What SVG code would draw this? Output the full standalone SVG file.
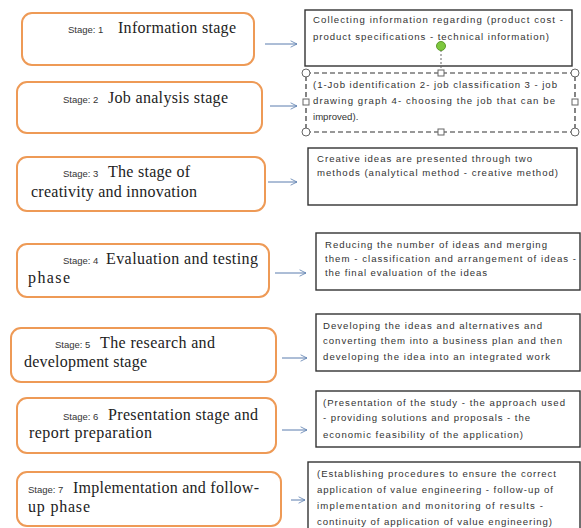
<svg xmlns="http://www.w3.org/2000/svg" width="581" height="528" viewBox="0 0 581 528">
<style>
.st{fill:#fff;stroke:#EE9A56;stroke-width:2}
.bx{fill:#fff;stroke:#333;stroke-width:1.4}
.sm{font-family:"Liberation Sans",Arial,sans-serif;font-size:9.5px;fill:#333}
.lg{font-family:"Liberation Serif","Times New Roman",serif;font-size:16px;fill:#222}
.tx{font-family:"Liberation Sans",Arial,sans-serif;font-size:9.6px;fill:#333}
.ar{stroke:#5B7DAE;stroke-width:1;fill:none}
.hc{fill:#fff;stroke:#666;stroke-width:1}
</style>
<defs>
<marker id="ah" viewBox="0 0 10 10" refX="9" refY="5" markerWidth="8" markerHeight="8" orient="auto" markerUnits="userSpaceOnUse">
<path d="M1,1 L9,5 L1,9" fill="none" stroke="#5B7DAE" stroke-width="1"/>
</marker>
</defs>
<rect width="581" height="528" fill="#fff"/>

<g id="stage1">
<rect class="st" x="22" y="13" width="232" height="52" rx="10"/>
<text class="sm" x="68" y="33">Stage: 1</text>
<text class="lg" x="118" y="33" textLength="118" lengthAdjust="spacing">Information stage</text>
</g>
<g id="stage2">
<rect class="st" x="17" y="82" width="245" height="51" rx="10"/>
<text class="sm" x="63" y="103">Stage: 2</text>
<text class="lg" x="108" y="103" textLength="120" lengthAdjust="spacing">Job analysis stage</text>
</g>
<g id="stage3">
<rect class="st" x="17" y="157" width="248" height="54" rx="10"/>
<text class="sm" x="63" y="177">Stage: 3</text>
<text class="lg" x="108" y="177" textLength="82" lengthAdjust="spacing">The stage of</text>
<text class="lg" x="31" y="197" textLength="166" lengthAdjust="spacing">creativity and innovation</text>
</g>
<g id="stage4">
<rect class="st" x="17" y="244" width="252" height="53" rx="10"/>
<text class="sm" x="63" y="264">Stage: 4</text>
<text class="lg" x="106" y="264" textLength="152" lengthAdjust="spacing">Evaluation and testing</text>
<text class="lg" x="28" y="283" textLength="42" lengthAdjust="spacing">phase</text>
</g>
<g id="stage5">
<rect class="st" x="11" y="328" width="265" height="54" rx="10"/>
<text class="sm" x="55" y="348">Stage: 5</text>
<text class="lg" x="100" y="348" textLength="115" lengthAdjust="spacing">The research and</text>
<text class="lg" x="24" y="367" textLength="123" lengthAdjust="spacing">development stage</text>
</g>
<g id="stage6">
<rect class="st" x="17" y="398" width="259" height="55" rx="10"/>
<text class="sm" x="63" y="420">Stage: 6</text>
<text class="lg" x="108" y="420" textLength="150" lengthAdjust="spacing">Presentation stage and</text>
<text class="lg" x="29" y="438" textLength="123" lengthAdjust="spacing">report preparation</text>
</g>
<g id="stage7">
<rect class="st" x="17" y="472" width="264" height="54" rx="10"/>
<text class="sm" x="28" y="493">Stage: 7</text>
<text class="lg" x="73" y="493" textLength="186" lengthAdjust="spacing">Implementation and follow-</text>
<text class="lg" x="28" y="512" textLength="62" lengthAdjust="spacing">up phase</text>
</g>

<g id="desc1">
<rect class="bx" x="305" y="10" width="267" height="56"/>
<text class="tx" x="313" y="23" textLength="250" lengthAdjust="spacing">Collecting information regarding (product cost -</text>
<text class="tx" x="313" y="40" textLength="236" lengthAdjust="spacing">product specifications - technical information)</text>
</g>
<g id="desc2">
<rect x="306" y="73" width="269" height="59" fill="#fff" stroke="#333" stroke-width="1.2" stroke-dasharray="5,3"/>
<text class="tx" x="313" y="88" textLength="244" lengthAdjust="spacing">(1-Job identification 2- job classification 3 - job</text>
<text class="tx" x="313" y="104" textLength="242" lengthAdjust="spacing">drawing graph 4- choosing the job that can be</text>
<text class="tx" x="313" y="120">improved).</text>
<line x1="441" y1="50" x2="441" y2="70" stroke="#666" stroke-width="1" stroke-dasharray="2,2"/>
<circle cx="441" cy="46" r="4.5" fill="#7DC83E" stroke="#5E9A2C" stroke-width="1"/>
<circle class="hc" cx="306" cy="73" r="4"/>
<circle class="hc" cx="575" cy="73" r="4"/>
<circle class="hc" cx="306" cy="132" r="4"/>
<circle class="hc" cx="575" cy="132" r="4"/>
<rect class="hc" x="438" y="70" width="6" height="6"/>
<rect class="hc" x="438" y="129" width="6" height="6"/>
<rect class="hc" x="303" y="99" width="6" height="6"/>
<rect class="hc" x="572" y="99" width="6" height="6"/>
</g>
<g id="desc3">
<rect class="bx" x="308" y="148" width="269" height="57"/>
<text class="tx" x="317" y="162" textLength="215" lengthAdjust="spacing">Creative ideas are presented through two</text>
<text class="tx" x="317" y="176" textLength="241" lengthAdjust="spacing">methods (analytical method - creative method)</text>
</g>
<g id="desc4">
<rect class="bx" x="316" y="233" width="264" height="57"/>
<text class="tx" x="325" y="248" textLength="222" lengthAdjust="spacing">Reducing the number of ideas and merging</text>
<text class="tx" x="325" y="262" textLength="251" lengthAdjust="spacing">them - classification and arrangement of ideas -</text>
<text class="tx" x="325" y="276" textLength="162" lengthAdjust="spacing">the final evaluation of the ideas</text>
</g>
<g id="desc5">
<rect class="bx" x="316" y="314" width="264" height="57"/>
<text class="tx" x="323" y="329" textLength="219" lengthAdjust="spacing">Developing the ideas and alternatives and</text>
<text class="tx" x="323" y="344" textLength="239" lengthAdjust="spacing">converting them into a business plan and then</text>
<text class="tx" x="323" y="360" textLength="227" lengthAdjust="spacing">developing the idea into an integrated work</text>
</g>
<g id="desc6">
<rect class="bx" x="316" y="391" width="264" height="56"/>
<text class="tx" x="323" y="406" textLength="242" lengthAdjust="spacing">(Presentation of the study - the approach used</text>
<text class="tx" x="323" y="421" textLength="207" lengthAdjust="spacing">- providing solutions and proposals - the</text>
<text class="tx" x="323" y="438" textLength="200" lengthAdjust="spacing">economic feasibility of the application)</text>
</g>
<g id="desc7">
<rect class="bx" x="308" y="462" width="272" height="70"/>
<text class="tx" x="317" y="477" textLength="239" lengthAdjust="spacing">(Establishing procedures to ensure the correct</text>
<text class="tx" x="317" y="493" textLength="236" lengthAdjust="spacing">application of value engineering - follow-up of</text>
<text class="tx" x="317" y="509" textLength="226" lengthAdjust="spacing">implementation and monitoring of results -</text>
<text class="tx" x="317" y="525" textLength="235" lengthAdjust="spacing">continuity of application of value engineering)</text>
</g>

<g id="connectors">
<line class="ar" x1="265" y1="44" x2="297" y2="44" marker-end="url(#ah)"/>
<line class="ar" x1="270" y1="106" x2="297" y2="106" marker-end="url(#ah)"/>
<line class="ar" x1="268" y1="182" x2="297" y2="182" marker-end="url(#ah)"/>
<line class="ar" x1="275" y1="273" x2="306" y2="273" marker-end="url(#ah)"/>
<line class="ar" x1="282" y1="358" x2="307" y2="358" marker-end="url(#ah)"/>
<line class="ar" x1="282" y1="430" x2="307" y2="430" marker-end="url(#ah)"/>
<line class="ar" x1="291" y1="500" x2="305" y2="500" marker-end="url(#ah)"/>
</g>
</svg>
